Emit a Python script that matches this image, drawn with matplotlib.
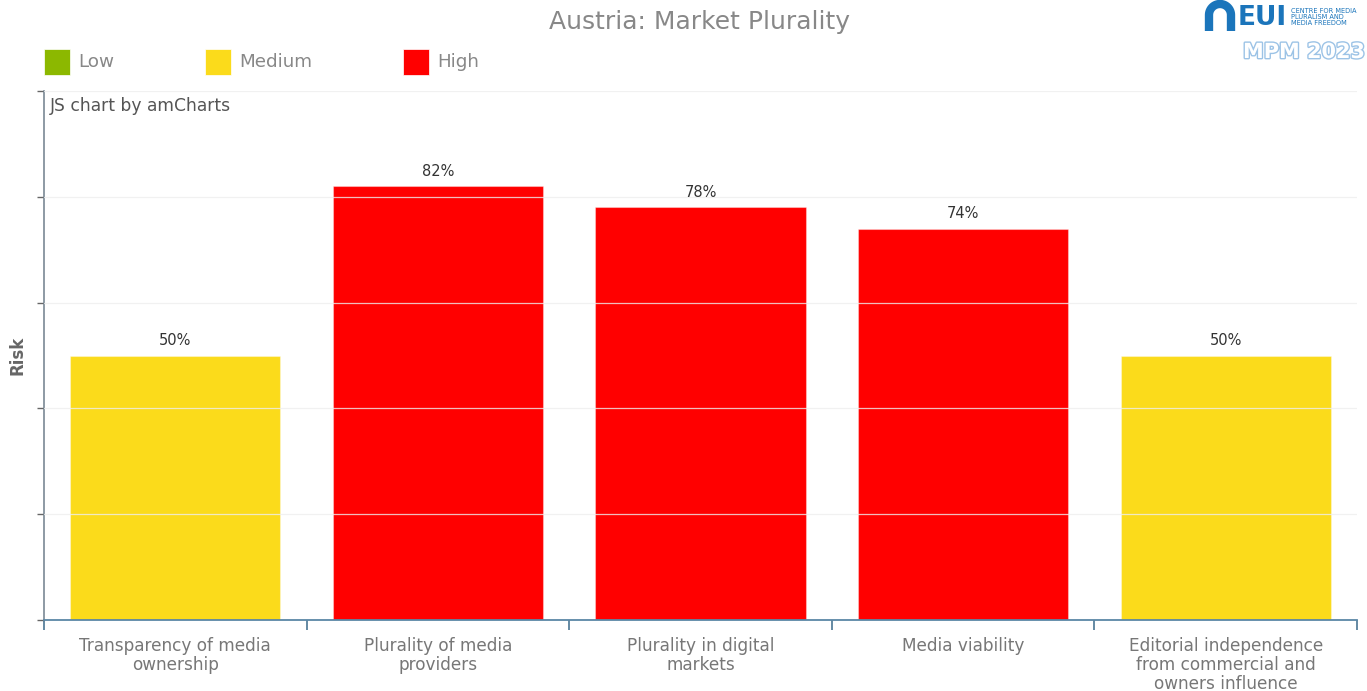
import matplotlib.pyplot as plt
import matplotlib.patheffects as pe
import numpy as np
from matplotlib.patches import Rectangle

categories = [
    "Transparency of media\nownership",
    "Plurality of media\nproviders",
    "Plurality in digital\nmarkets",
    "Media viability",
    "Editorial independence\nfrom commercial and\nowners influence",
]
risk = [50, 82, 78, 74, 50]
levels = ["Medium", "High", "High", "High", "Medium"]

level_names = ["Low", "Medium", "High"]
level_colors = {"Low": "#8cb800", "Medium": "#fbdb1b", "High": "#ff0000"}

plt.rcParams['font.family'] = ['DejaVu Sans']

fig = plt.figure(figsize=(13.67, 6.91), dpi=100)
ax = fig.add_axes([44 / 1367, 71 / 691, 1313 / 1367, 529 / 691])

x = np.arange(len(categories))
bars = ax.bar(x, risk, width=0.8, color=[level_colors[l] for l in levels],
              edgecolor=(1, 1, 1, 0.35), linewidth=0.8, zorder=2)

for xi, v in zip(x, risk):
    ax.text(xi, v + 1.4, f"{v}%", ha="center", va="bottom",
            fontsize=10.5, color="#333333", zorder=4)

ax.set_xlim(-0.5, len(categories) - 0.5)
ax.set_ylim(0, 100)
ax.set_yticks(np.arange(0, 101, 20))
ax.set_yticklabels([])
ax.set_xticks(x)
ax.set_xticklabels(categories, fontsize=12.2, color="#777777", linespacing=1.1)
ax.tick_params(axis="x", length=0, pad=12)
ax.set_xticks(np.arange(-0.5, len(categories), 1), minor=True)
ax.tick_params(axis="x", which="minor", length=7, color="#4a7594", width=1.2)
ax.tick_params(axis="y", length=5, color="#666666", width=1)

for yv in range(20, 101, 20):
    ax.axhline(yv, color="#eeeeee", lw=0.9, alpha=0.8, zorder=3)

for s in ["top", "right"]:
    ax.spines[s].set_visible(False)
ax.spines["bottom"].set_color("#5b87a6")
ax.spines["bottom"].set_linewidth(1.3)
ax.spines["left"].set_color("#6f7f8c")
ax.spines["left"].set_linewidth(1.1)

ax.set_ylabel("Risk", fontsize=12, fontweight="bold", color="#666666")
ax.yaxis.set_label_coords(-18 / 1313, 0.5)

ax.text(6 / 1313, 0.988, "JS chart by amCharts", transform=ax.transAxes,
        fontsize=12.3, color="#555555", va="top", ha="left")

fig.text(700 / 1367, 1 - 22 / 691, "Austria: Market Plurality", ha="center",
         va="center", fontsize=18, color="#888888")

# legend boxes along the top
legend_x = [44, 205, 403]
for name, lx in zip(level_names, legend_x):
    fig.patches.append(Rectangle((lx / 1367, 1 - 75 / 691), 26 / 1367, 26 / 691,
                                 transform=fig.transFigure, facecolor=level_colors[name],
                                 edgecolor="white", lw=0.5))
    fig.text((lx + 34) / 1367, 1 - 62 / 691, name, ha="left", va="center",
             fontsize=13.2, color="#888888")

# EUI / MPM logo
blue = "#1b75bb"
t = np.linspace(0, np.pi, 40)
arch_x = np.concatenate([[1209], 1220 - 11 * np.cos(t), [1231]])
arch_y = np.concatenate([[31], 15 - 11 * np.sin(t), [31]])
fig.add_artist(plt.Line2D(arch_x / 1367, 1 - arch_y / 691, transform=fig.transFigure,
                          color=blue, lw=6, solid_capstyle="butt"))
fig.text(1238 / 1367, 1 - 18 / 691, "EUI", ha="left", va="center", fontsize=19,
         fontweight="bold", color=blue)
fig.text(1291 / 1367, 1 - 17 / 691, "CENTRE FOR MEDIA\nPLURALISM AND\nMEDIA FREEDOM",
         ha="left", va="center", fontsize=4.8, color=blue, linespacing=1.0)
fig.text(1243 / 1367, 1 - 52 / 691, "MPM 2023", ha="left", va="center", fontsize=15,
         fontweight="bold", color="white",
         path_effects=[pe.withStroke(linewidth=2, foreground="#9cc3e6")])

fig.savefig("out.png", dpi=100, facecolor="white")
